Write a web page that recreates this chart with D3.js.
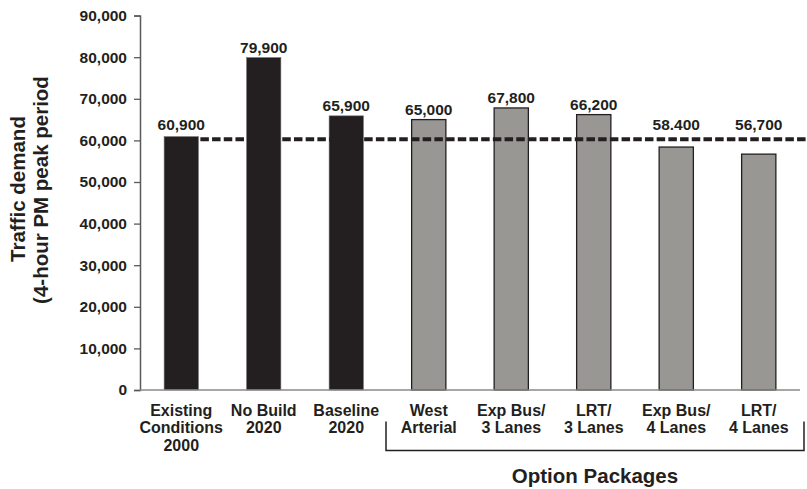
<!DOCTYPE html>
<html>
<head>
<meta charset="utf-8">
<script src="https://cdn.jsdelivr.net/npm/d3@7"></script>
<style>
  html, body { margin: 0; padding: 0; background: #fff; }
  svg { display: block; }
  text { font-family: "Liberation Sans", Arial, Helvetica, sans-serif; font-weight: bold; fill: #231f20; }
</style>
</head>
<body>
<svg id="chart" width="807" height="489"></svg>
<script>
// ---- data ----
const categories = [
  ["Existing", "Conditions", "2000"],
  ["No Build", "2020"],
  ["Baseline", "2020"],
  ["West", "Arterial"],
  ["Exp Bus/", "3 Lanes"],
  ["LRT/", "3 Lanes"],
  ["Exp Bus/", "4 Lanes"],
  ["LRT/", "4 Lanes"]
];
const values = [60900, 79900, 65900, 65000, 67800, 66200, 58400, 56700];
const valueLabels = ["60,900", "79,900", "65,900", "65,000", "67,800", "66,200", "58.400", "56,700"];
const groups = ["base", "base", "base", "option", "option", "option", "option", "option"];
const capacityLine = 60300;
const yTicks = [0, 10000, 20000, 30000, 40000, 50000, 60000, 70000, 80000, 90000];
const yTitle = ["Traffic demand", "(4-hour PM peak period"];
const bracketLabel = "Option Packages";

// ---- layout ----
const W = 807, H = 489;
const svg = d3.select("#chart");
const idx = categories.map((d, i) => i);

const x = d3.scaleBand().domain(idx).range([140, 800]).paddingInner(0.585).paddingOuter(0.2925);
const y = d3.scaleLinear().domain([0, 90000]).range([390, 15.6]);

const ink = "#231f20";

// y axis
const yAxis = svg.append("g")
  .attr("transform", "translate(140,0)")
  .call(d3.axisLeft(y).tickValues(yTicks).tickFormat(d3.format(",")).tickSize(6).tickPadding(7));
yAxis.select(".domain").attr("stroke", "#5a5a5a").attr("stroke-width", 1.5);
yAxis.selectAll(".tick line").attr("stroke", "#5a5a5a").attr("stroke-width", 1.3);
yAxis.selectAll(".tick text")
  .style("font-family", '"Liberation Sans", Arial, sans-serif')
  .style("font-weight", "bold").style("font-size", "15.5px").attr("fill", ink);

// bars
svg.append("g").selectAll("rect").data(idx).join("rect")
  .attr("x", i => x(i))
  .attr("y", i => y(values[i]))
  .attr("width", x.bandwidth())
  .attr("height", i => y(0) - y(values[i]))
  .attr("fill", i => groups[i] === "base" ? ink : "#999794")
  .attr("stroke", i => groups[i] === "base" ? "#6e6b6a" : ink)
  .attr("stroke-width", i => groups[i] === "base" ? 0.6 : 1.3);

// x axis line
svg.append("line")
  .attr("x1", x.range()[0]).attr("x2", x.range()[1])
  .attr("y1", y(0)).attr("y2", y(0))
  .attr("stroke", "#8a8a8a").attr("stroke-width", 1.6);

// dashed capacity line
svg.append("line")
  .attr("x1", x(0) + x.bandwidth() + 2).attr("x2", W)
  .attr("y1", y(capacityLine)).attr("y2", y(capacityLine))
  .attr("stroke", ink).attr("stroke-width", 4)
  .attr("stroke-dasharray", "8.5,3.2");

// value labels
svg.append("g").selectAll("text").data(idx).join("text")
  .attr("x", i => x(i) + x.bandwidth() / 2)
  .attr("y", i => Math.min(y(values[i]), y(capacityLine) - 4) - 5)
  .attr("text-anchor", "middle")
  .style("font-size", "15.5px")
  .text(i => valueLabels[i]);

// category labels
const cat = svg.append("g").selectAll("text").data(idx).join("text")
  .attr("x", i => x(i) + x.bandwidth() / 2)
  .attr("y", 415.5)
  .attr("text-anchor", "middle")
  .style("font-size", "16px");
cat.each(function(i) {
  const t = d3.select(this);
  categories[i].forEach((line, k) => {
    t.append("tspan")
      .attr("x", x(i) + x.bandwidth() / 2)
      .attr("dy", k === 0 ? 0 : 17.7)
      .text(line);
  });
});

// bracket for option packages
const bl = (x(2) + x.bandwidth() + x(3)) / 2 - 1.5;
const br = x.range()[1] + 4;
svg.append("path")
  .attr("d", `M${bl},421.5 V450.5 H${br} V421.5`)
  .attr("fill", "none").attr("stroke", ink).attr("stroke-width", 1.5);
svg.append("text")
  .attr("x", (bl + br) / 2).attr("y", 483)
  .attr("text-anchor", "middle")
  .style("font-size", "20.5px")
  .text(bracketLabel);

// y title
svg.append("text")
  .attr("transform", "translate(25,189) rotate(-90)")
  .attr("text-anchor", "middle")
  .style("font-size", "20.5px")
  .text(yTitle[0]);
svg.append("text")
  .attr("transform", "translate(48,190) rotate(-90)")
  .attr("text-anchor", "middle")
  .style("font-size", "20.5px")
  .text(yTitle[1]);
</script>
</body>
</html>
